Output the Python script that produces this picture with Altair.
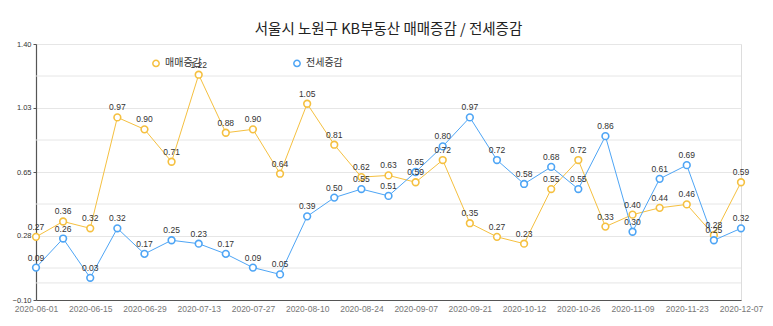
import altair as alt
import pandas as pd

dates = ["2020-06-01", "2020-06-08", "2020-06-15", "2020-06-22", "2020-06-29",
         "2020-07-06", "2020-07-13", "2020-07-20", "2020-07-27", "2020-08-03",
         "2020-08-10", "2020-08-17", "2020-08-24", "2020-08-31", "2020-09-07",
         "2020-09-14", "2020-09-21", "2020-09-28", "2020-10-12", "2020-10-19",
         "2020-10-26", "2020-11-02", "2020-11-09", "2020-11-16", "2020-11-23",
         "2020-11-30", "2020-12-07"]
sale = [0.27, 0.36, 0.32, 0.97, 0.90, 0.71, 1.22, 0.88, 0.90, 0.64, 1.05, 0.81,
        0.62, 0.63, 0.59, 0.72, 0.35, 0.27, 0.23, 0.55, 0.72, 0.33, 0.40, 0.44,
        0.46, 0.28, 0.59]
jeonse = [0.09, 0.26, 0.03, 0.32, 0.17, 0.25, 0.23, 0.17, 0.09, 0.05, 0.39, 0.50,
          0.55, 0.51, 0.65, 0.80, 0.97, 0.72, 0.58, 0.68, 0.55, 0.86, 0.30, 0.61,
          0.69, 0.25, 0.32]
series_names = ["매매증감", "전세증감"]
series_colors = ["#f5c040", "#4ea5f5"]
y_ticks = [-0.1, 0.2751, 0.65, 1.0251, 1.4]
y_minor = [0.0875, 0.4625, 0.8375, 1.2125, 0.0]
shown_dates = dates[::2]

FONT = "Noto Sans CJK KR"

rows = []
for d, s, j in zip(dates, sale, jeonse):
    rows.append({"date": d, "series": series_names[0], "value": s})
    rows.append({"date": d, "series": series_names[1], "value": j})
df = pd.DataFrame(rows)

label_expr = "indexof([" + ",".join("'%s'" % d for d in shown_dates) + "], datum.value) >= 0 ? datum.label : ''"

x = alt.X("date:N", sort=dates, title=None,
          scale=alt.Scale(type="point", padding=0),
          axis=alt.Axis(labelAngle=0, labelExpr=label_expr, ticks=False,
                        labelColor="#777", labelFontSize=8.5, labelFont="Liberation Sans",
                        domainColor="#555", domainWidth=1.2,
                        gridColor="#e2e2e2", gridDash=[2, 2], labelPadding=4))
y = alt.Y("value:Q", title=None,
          scale=alt.Scale(domain=[-0.1, 1.4], nice=False, zero=False),
          axis=alt.Axis(values=y_ticks, format=".2f", labelFontSize=7.5,
                        labelFont="Liberation Sans", labelColor="#333",
                        domainColor="#555", domainWidth=1.2, tickSize=3,
                        tickColor="#555", gridColor="#e6e6e6", labelPadding=2))
color = alt.Color("series:N", scale=alt.Scale(domain=series_names, range=series_colors),
                  legend=alt.Legend(title=None, orient="none", legendX=115, legendY=14,
                                    direction="horizontal", columnPadding=88,
                                    symbolType="circle", symbolFillColor="white",
                                    symbolStrokeWidth=1.5, symbolSize=40,
                                    labelFont=FONT, labelFontSize=10, labelColor="#333"))

base = alt.Chart(df)

minor = alt.Chart(pd.DataFrame({"v": y_minor})).mark_rule(
    color="#e6e6e6", strokeWidth=1).encode(y=alt.Y("v:Q", scale=alt.Scale(domain=[-0.1, 1.4], nice=False, zero=False)))

lines = base.mark_line(strokeWidth=1).encode(x=x, y=y, color=color)
points = base.mark_point(filled=False, fill="white", fillOpacity=1, size=45,
                         strokeWidth=1.6, opacity=1).encode(x=x, y=y, color=color)
texts = base.mark_text(dy=-10, fontSize=8.5, font="Liberation Sans", color="#333").encode(
    x=x, y=y, text=alt.Text("value:Q", format=".2f"))

chart = alt.layer(minor, lines, points, texts).properties(
    width=705, height=256,
    title=alt.TitleParams("서울시 노원구 KB부동산 매매증감 / 전세증감", font=FONT,
                          fontSize=14.5, fontWeight="normal", color="#222", offset=3),
    autosize=alt.AutoSizeParams(type="none"),
    padding={"left": 36, "top": 44, "right": 32, "bottom": 26},
).configure_view(stroke=None).configure(background="white")

chart.save("out.html", embed_options={"renderer": "svg", "actions": False})
